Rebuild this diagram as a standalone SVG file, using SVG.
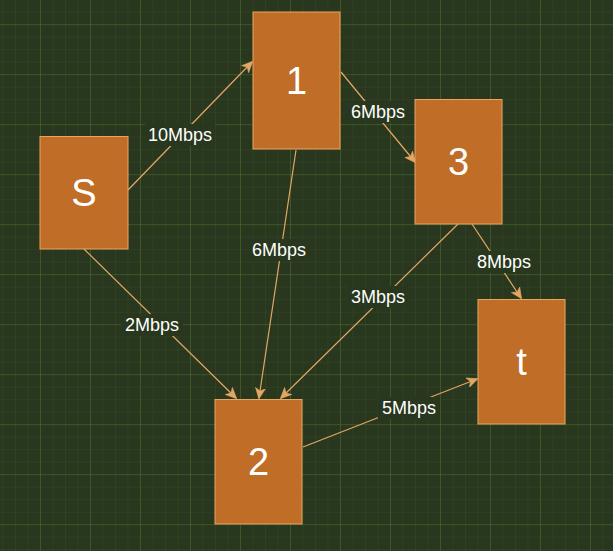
<svg xmlns="http://www.w3.org/2000/svg" width="613" height="551" viewBox="0 0 613 551">
<defs>
<pattern id="minor" x="2.5" y="-0.8" width="12.5" height="12.5" patternUnits="userSpaceOnUse">
<path d="M0 0H12.5M0 0V12.5" fill="none" stroke="#34482a" stroke-width="1"/>
</pattern>
<pattern id="major" x="40" y="24.2" width="50" height="50" patternUnits="userSpaceOnUse">
<path d="M0 0H50M0 0V50" fill="none" stroke="#4c6e2b" stroke-width="1"/>
</pattern>
<marker id="arr" markerWidth="12" markerHeight="12" refX="10" refY="5" orient="auto" markerUnits="userSpaceOnUse" viewBox="0 0 12 10">
<path d="M0 0L11 5L0 10L3 5Z" fill="#e3a765" stroke="#e3a765" stroke-width="0.6"/>
</marker>
<style>
.node rect{fill:#c06d27;stroke:#e8a663;stroke-width:1}
.node text{fill:#ffffff;font-family:"Liberation Sans",Arial,sans-serif;font-size:38px;text-anchor:middle;dominant-baseline:central}
.edge{stroke:#e3a765;stroke-width:1.2;fill:none;marker-end:url(#arr)}
.lbl rect{fill:#28371d}
.lbl text{fill:#ffffff;font-family:"Liberation Sans",Arial,sans-serif;font-size:18px;text-anchor:middle;dominant-baseline:central}
</style>
</defs>
<rect width="613" height="551" fill="#28371d"/>
<rect width="613" height="551" fill="url(#minor)"/>
<rect width="613" height="551" fill="url(#major)"/>
<g id="connectors">
<path class="edge" d="M128 190L252 62"/>
<path class="edge" d="M341 72L415 162"/>
<path class="edge" d="M296 150L259 398"/>
<path class="edge" d="M84 249L236 398"/>
<path class="edge" d="M458 224L281 398"/>
<path class="edge" d="M472 224L521 298"/>
<path class="edge" d="M303 447L477 379"/>
<g class="lbl"><rect x="145" y="124" width="70" height="22"/><text x="180" y="135">10Mbps</text></g>
<g class="lbl"><rect x="347" y="101" width="62" height="22"/><text x="378" y="112">6Mbps</text></g>
<g class="lbl"><rect x="248" y="239" width="62" height="22"/><text x="279" y="250">6Mbps</text></g>
<g class="lbl"><rect x="121" y="314" width="62" height="22"/><text x="152" y="325">2Mbps</text></g>
<g class="lbl"><rect x="347" y="286" width="62" height="22"/><text x="378" y="297">3Mbps</text></g>
<g class="lbl"><rect x="473" y="251" width="62" height="22"/><text x="504" y="262">8Mbps</text></g>
<g class="lbl"><rect x="378" y="397" width="62" height="22"/><text x="409" y="408">5Mbps</text></g>
</g>
<g id="node-s" class="node"><rect x="40" y="136.5" width="88" height="112.5"/><text x="84" y="193">S</text></g>
<g id="node-1" class="node"><rect x="253" y="12" width="87" height="137"/><text x="296.5" y="81">1</text></g>
<g id="node-3" class="node"><rect x="415" y="99.5" width="87" height="124.5"/><text x="458.5" y="162">3</text></g>
<g id="node-t" class="node"><rect x="478" y="299.5" width="87" height="124.5"/><text x="521.5" y="362">t</text></g>
<g id="node-2" class="node"><rect x="215" y="399.5" width="87" height="124.5"/><text x="258.5" y="462">2</text></g>
</svg>
